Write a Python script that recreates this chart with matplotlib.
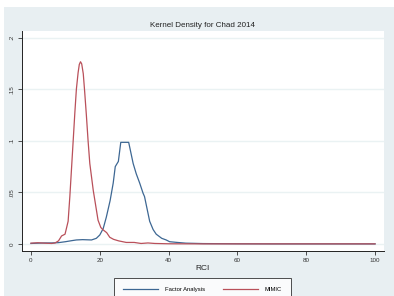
import matplotlib
matplotlib.use("Agg")
import matplotlib.pyplot as plt
from matplotlib.patches import Rectangle

plt.rcParams['font.family'] = ['Liberation Sans', 'DejaVu Sans']

# curves (RCI, density)
fa_x = [0, 2, 4, 6, 8, 10, 12, 13.2, 15, 17.6, 19, 20, 21, 21.9, 23, 23.9, 24.5, 25.4,
        26.1, 28.4, 29.7, 30.6, 31.6, 32.6, 33.0, 34.5, 35.5, 36.4, 38, 39.3, 40.3, 42.2,
        45, 50, 60, 70, 80, 90, 100]
fa_y = [0.0005, 0.0008, 0.001, 0.001, 0.0013, 0.0022, 0.0033, 0.0039, 0.0042, 0.0039, 0.0055,
        0.0087, 0.015, 0.026, 0.042, 0.059, 0.075, 0.080, 0.0985, 0.0985, 0.078, 0.068,
        0.059, 0.049, 0.046, 0.022, 0.014, 0.0095, 0.0055, 0.0039, 0.0022, 0.0016,
        0.0008, 0.0004, 0.0002, 0.0001, 0.0001, 0.0001, 0.0001]

mimic_x = [0, 2, 4, 6, 7, 8, 8.9, 9.9, 10.3, 10.8, 11.3, 12, 12.75, 13.2, 13.7, 14.05,
           14.4, 14.75, 15.2, 15.6, 16.1, 16.6, 17.1, 18.1, 19.5, 20.3, 21.0, 22.0, 22.9,
           24, 25.5, 27.7, 30, 32, 34, 36, 40, 50, 60, 70, 80, 90, 100]
mimic_y = [0.0008, 0.0012, 0.0008, 0.0005, 0.001, 0.003, 0.0078, 0.0095, 0.015, 0.022,
           0.046, 0.085, 0.127, 0.150, 0.166, 0.174, 0.1766, 0.1745, 0.165, 0.148, 0.125,
           0.1, 0.078, 0.052, 0.023, 0.016, 0.0136, 0.011, 0.0065, 0.0045, 0.003, 0.0015,
           0.0015, 0.0005, 0.001, 0.0005, 0.0002, 0.0001, 0.0001, 0.0001, 0.0001, 0.0001,
           0.0001]

xticks = [0, 20, 40, 60, 80, 100]
yticks = [0, 0.05, 0.1, 0.15, 0.2]
ylabels = ["0", ".05", ".1", ".15", ".2"]

W, H = 394, 296
fig = plt.figure(figsize=(W / 100, H / 100), dpi=100, facecolor="white")
fig.patches.append(Rectangle((4 / W, 0), 1, (H - 7) / H, transform=fig.transFigure,
                             facecolor="#e8eff2", edgecolor="none", zorder=-10))

ax = fig.add_axes([21.5 / W, (H - 251) / H, (384 - 21.5) / W, (251 - 31) / H])
ax.set_facecolor("white")
ax.plot(fa_x, fa_y, color="#3d6793", lw=0.9, label="Factor Analysis")
ax.plot(mimic_x, mimic_y, color="#b9505a", lw=0.9, label="MIMIC")

ax.set_xlim(-2.75, 102.6)
ax.set_ylim(-0.0068, 0.2064)
ax.set_xticks(xticks)
ax.set_xticklabels([str(t) for t in xticks])
ax.set_yticks(yticks)
ax.set_yticklabels(ylabels, rotation=90, va="center")
ax.tick_params(labelsize=4.5, colors="#333333", length=3, width=0.6, pad=2)
ax.yaxis.grid(True, color="#eaf2f3", lw=1)
ax.set_axisbelow(True)
for s in ["top", "right"]:
    ax.spines[s].set_visible(False)
for s in ["left", "bottom"]:
    ax.spines[s].set_linewidth(0.7)
    ax.spines[s].set_color("#222222")

ax.set_title("Kernel Density for Chad 2014", fontsize=5.8, color="#222222", pad=3)
ax.set_xlabel("RCI", fontsize=6, color="#222222", labelpad=1.5)

leg = fig.legend(loc="upper center", bbox_to_anchor=(202.5 / W, (H - 278.3) / H),
                 ncol=2, fontsize=4.2, frameon=True, fancybox=False,
                 handlelength=6, handletextpad=1.2, columnspacing=3.0, borderpad=1.5,
                 borderaxespad=0)
leg.get_frame().set_edgecolor("#222222")
leg.get_frame().set_linewidth(0.7)

fig.savefig("out.png", dpi=100, facecolor="white")
